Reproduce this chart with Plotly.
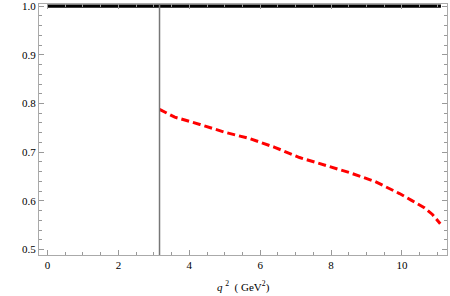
import plotly.graph_objects as go

# data
q2_ref = [0.0, 11.1]
ratio_ref = [1.0, 1.0]
q2_curve = [3.16, 3.59, 4.30, 5.00, 5.70, 6.41, 7.11, 7.82, 8.52, 9.23, 9.93, 10.27, 10.63, 10.86, 11.08]
ratio_curve = [0.788, 0.772, 0.757, 0.741, 0.728, 0.710, 0.689, 0.674, 0.658, 0.640, 0.615, 0.601, 0.586, 0.572, 0.553]
q2_threshold = 3.16

y_lo, y_hi = 0.4887, 1.0045

fig = go.Figure()
fig.add_trace(go.Scatter(x=q2_ref, y=ratio_ref, mode="lines",
                         line=dict(color="black", width=3.2), showlegend=False))
fig.add_trace(go.Scatter(x=q2_curve, y=ratio_curve, mode="lines",
                         line=dict(color="red", width=3, dash="8px,4px"),
                         showlegend=False))
fig.add_trace(go.Scatter(x=[q2_threshold, q2_threshold], y=[y_lo, y_hi], mode="lines",
                         line=dict(color="#777777", width=1.5), showlegend=False))

axis_common = dict(showgrid=False, zeroline=False, showline=True, linecolor="#aaaaaa",
                   linewidth=1, mirror="ticks", ticks="inside", tickcolor="#999999",
                   automargin=False,
                   tickfont=dict(family="Liberation Serif", size=11, color="#000000"))

fig.update_xaxes(range=[-0.24, 11.27], tickvals=[0, 2, 4, 6, 8, 10], ticklen=5,
                 minor=dict(dtick=0.5, tick0=0, ticks="inside", ticklen=3, tickcolor="#999999"),
                 **axis_common)
fig.update_yaxes(range=[y_lo, y_hi], tickvals=[0.5, 0.6, 0.7, 0.8, 0.9, 1.0],
                 ticktext=["0.5", "0.6", "0.7", "0.8", "0.9", "1.0"], ticklen=5,
                 minor=dict(dtick=0.02, tick0=0.5, ticks="inside", ticklen=3, tickcolor="#999999"),
                 **axis_common)

fig.add_annotation(text="<i>q</i> <sup>2</sup>  ( GeV<sup>2</sup>)", xref="paper", yref="paper",
                   x=0.5, y=-0.125, xanchor="center", yanchor="middle", showarrow=False,
                   font=dict(family="Liberation Serif", size=11, color="#000000"))

fig.update_layout(width=450, height=296, margin=dict(l=39, r=3, t=4, b=41),
                  plot_bgcolor="white", paper_bgcolor="white")
fig.write_html("out.html", config={"displayModeBar": False},
               post_script="document.body.style.margin='0';document.body.style.overflow='hidden';")
